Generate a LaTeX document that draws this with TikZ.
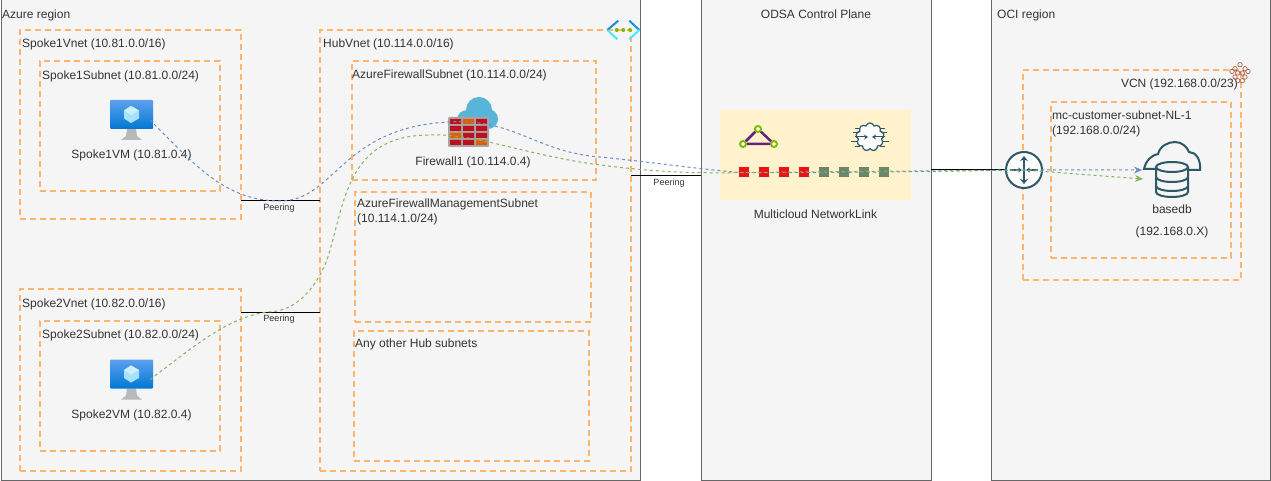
\documentclass[tikz,border=0pt]{standalone}
\usepackage{fontspec}
\setmainfont{Liberation Sans}
\usepackage{tikz}
\usetikzlibrary{positioning, shapes.symbols, arrows.meta}
\definecolor{regionfill}{HTML}{F5F5F5}
\definecolor{regionline}{HTML}{666666}
\definecolor{textgray}{HTML}{333333}
\definecolor{dashorange}{HTML}{FFB570}
\definecolor{linkblue}{HTML}{6C8EBF}
\definecolor{linkgreen}{HTML}{82B366}
\definecolor{bandyellow}{HTML}{FFF2CC}
\definecolor{ocitteal}{HTML}{2D5967}
\definecolor{brickred}{HTML}{C00F1C}
\definecolor{brickorange}{HTML}{E06000}
\definecolor{wallgray}{HTML}{A6A6A6}
\definecolor{cloudblue}{HTML}{59B4D9}
\definecolor{portred}{HTML}{EE1111}
\definecolor{portgreen}{HTML}{6D8764}
\definecolor{vmtop}{HTML}{5EA0EF}
\definecolor{vmbottom}{HTML}{0078D4}
\definecolor{azureblue}{HTML}{1490DF}
\definecolor{azurecyan}{HTML}{50E6FF}
\definecolor{azuregreen}{HTML}{7FBA00}
\definecolor{triangleline}{HTML}{68217A}
\definecolor{vcnbrown}{HTML}{B5654A}

% monitor icon, name and top left corner
\newcommand{\vmicon}[3]{
    \begin{scope}[shift={(#2,#3)}]
        \node (#1) [iconbox, minimum width=43pt, minimum height=40pt] at (21.5,20) {};
        \fill [gray!55] (17,29) -- (26,29) -- (27,36) -- (32,40) -- (11,40) -- (16,36) -- cycle;
        \shade [top color=vmtop, bottom color=vmbottom, rounded corners=1pt] (0,0) rectangle (43,29);
        \fill [cyan!35] (21,6) -- (29,10.5) -- (29,18.5) -- (21,23) -- (14,18.5) -- (14,10.5) -- cycle;
        \fill [cyan!20] (21,6) -- (29,10.5) -- (21,15) -- (14,10.5) -- cycle;
    \end{scope}
}

\begin{document}
\begin{tikzpicture}[x=1pt, y=-1pt, node distance=8pt and 10pt, font=\fontsize{12}{14}\selectfont, text=textgray]
    \tikzstyle{region} = [rectangle, anchor=north west, inner sep=0pt, outer sep=0pt, draw=regionline, fill=regionfill, line width=1pt]
    \tikzstyle{dashbox} = [rectangle, anchor=north west, inner sep=0pt, outer sep=0pt, draw=dashorange, line width=2pt, dash pattern=on 6pt off 4pt]
    \tikzstyle{boxtext} = [inner sep=0pt, text height=9pt, text depth=3pt, align=left]
    \tikzstyle{twolinetext} = [inner sep=0pt, align=left, font=\fontsize{12}{14.5}\selectfont]
    \tikzstyle{centertext} = [inner sep=0pt, text height=9pt, text depth=3pt, align=center]
    \tikzstyle{peeringtext} = [anchor=north, inner sep=2pt, text height=7.5pt, text depth=2pt, font=\fontsize{9}{10}\selectfont]
    \tikzstyle{peerline} = [black, line width=1pt]
    \tikzstyle{iconbox} = [rectangle, inner sep=0pt, outer sep=0pt]
    \tikzstyle{redport} = [rectangle, inner sep=0pt, outer sep=0pt, minimum size=10pt, fill=portred]
    \tikzstyle{greenport} = [rectangle, inner sep=0pt, outer sep=0pt, minimum size=10pt, fill=portgreen]
    \tikzstyle{ringnode} = [circle, inner sep=0pt, minimum size=6pt, draw=azuregreen, line width=2pt, fill=white]
    \tikzstyle{iconline} = [draw=ocitteal, line width=1.6pt]
    \tikzstyle{iconarrow} = [iconline, -{Stealth[length=4pt, width=5pt]}]
    \tikzstyle{bluelink} = [linkblue, line width=1pt, dash pattern=on 3pt off 3pt, -{Stealth[length=8pt, width=7pt]}]
    \tikzstyle{greenlink} = [linkgreen, line width=1pt, dash pattern=on 3pt off 3pt, -{Stealth[length=8pt, width=7pt]}]

    \useasboundingbox (0,0) rectangle (1271,481);

    % regions
    \node (azure) [region, minimum width=639pt, minimum height=480pt] at (1,0) {};
    \node (odsa) [region, minimum width=230pt, minimum height=480pt] at (701,0) {};
    \node (oci) [region, minimum width=279pt, minimum height=480pt] at (991,0) {};
    \node (azuretext) [boxtext, below right=9pt and 1pt of azure.north west] {Azure region};
    \node (odsatext) [centertext, below=9pt of odsa.north] {ODSA Control Plane};
    \node (ocitext) [boxtext, below right=9pt and 6pt of oci.north west] {OCI region};

    % spokes
    \node (spokeonevnet) [dashbox, minimum width=221pt, minimum height=189pt] at (20,30) {};
    \node (spokeonesubnet) [dashbox, minimum width=180pt, minimum height=130pt] at (40,61) {};
    \node (spoketwovnet) [dashbox, minimum width=221pt, minimum height=182pt] at (20,289) {};
    \node (spoketwosubnet) [dashbox, minimum width=180pt, minimum height=130pt] at (40,321) {};
    \node (spokeonevnettext) [boxtext, below right=8pt and 2pt of spokeonevnet.north west] {Spoke1Vnet (10.81.0.0/16)};
    \node (spokeonesubnettext) [boxtext, below right=9pt and 2pt of spokeonesubnet.north west] {Spoke1Subnet (10.81.0.0/24)};
    \node (spoketwovnettext) [boxtext, below right=9pt and 2pt of spoketwovnet.north west] {Spoke2Vnet (10.82.0.0/16)};
    \node (spoketwosubnettext) [boxtext, below right=8pt and 2pt of spoketwosubnet.north west] {Spoke2Subnet (10.82.0.0/24)};

    % hub
    \node (hubvnet) [dashbox, minimum width=311pt, minimum height=441pt] at (320,30) {};
    \node (firewallsubnet) [dashbox, minimum width=244pt, minimum height=119pt] at (352,61) {};
    \node (managementsubnet) [dashbox, minimum width=236pt, minimum height=130pt] at (355,192) {};
    \node (othersubnets) [dashbox, minimum width=235pt, minimum height=130pt] at (354,331) {};
    \node (hubvnettext) [boxtext, below right=8pt and 3pt of hubvnet.north west] {HubVnet (10.114.0.0/16)};
    \node (firewallsubnettext) [boxtext, below right=8pt and 0pt of firewallsubnet.north west] {AzureFirewallSubnet (10.114.0.0/24)};
    \node (managementsubnettext) [twolinetext, below right=7pt and 2pt of managementsubnet.north west] {AzureFirewallManagementSubnet\\(10.114.1.0/24)};
    \node (othersubnetstext) [boxtext, below right=7pt and 1pt of othersubnets.north west] {Any other Hub subnets};

    % oci side
    \node (vcn) [dashbox, minimum width=218pt, minimum height=210pt] at (1023,70) {};
    \node (customersubnet) [dashbox, minimum width=180pt, minimum height=156pt] at (1051,102) {};
    \node (vcntext) [boxtext, anchor=east] at (1238,85) {VCN (192.168.0.0/23)};
    \node (customersubnettext) [twolinetext, below right=9pt and 1pt of customersubnet.north west] {mc-customer-subnet-NL-1\\(192.168.0.0/24)};

    % vm icons
    \vmicon{spokeonevm}{110}{100}
    \vmicon{spoketwovm}{110}{359.5}
    \node (spokeonevmtext) [centertext, below=9pt of spokeonevm] {Spoke1VM (10.81.0.4)};
    \node (spoketwovmtext) [centertext, below=10pt of spoketwovm] {Spoke2VM (10.82.0.4)};

    % firewall icon
    \node (firewall) [iconbox, minimum width=50pt, minimum height=50pt] at (473,122) {};
    \fill [cloudblue] (479,110) circle [radius=13pt] (488,119) circle [radius=10pt] (467,120) circle [radius=10pt];
    \fill [wallgray, rounded corners=1pt] (448,117) rectangle (489,147);
    \fill [brickred] (450,119) rectangle (461,124) (476,119) rectangle (487,124)
        (450,126) rectangle (461,131) (463,126) rectangle (474,131) (476,126) rectangle (487,131)
        (463,133) rectangle (474,138) (476,133) rectangle (487,138)
        (450,140) rectangle (461,145) (463,140) rectangle (474,145);
    \fill [brickorange] (463,119) rectangle (474,124) (450,133) rectangle (461,138) (476,140) rectangle (487,145);
    \node (firewalltext) [centertext, below=9pt of firewall] {Firewall1 (10.114.0.4)};

    % azure vnet icon
    \node (vneticon) [iconbox, minimum width=33pt, minimum height=20pt] at (623,30) {};
    \draw [azureblue, line width=2pt] (618.3,20.7) -- (607.3,30) (629.3,20.7) -- (639.3,30);
    \draw [azurecyan, line width=2pt] (607.3,30) -- (617.3,39.3) (639.3,30) -- (629.3,39.3);
    \fill [azuregreen] (616.7,30) circle [radius=2pt] (623.3,30) circle [radius=2pt] (630,30) circle [radius=2pt];

    % vcn icon
    \node (vcnicon) [iconbox, minimum size=20pt] at (1240,73) {};
    \draw [vcnbrown, line width=0.7pt] (1240,64.7) circle [radius=2.2pt] (1235,68.7) circle [radius=2.2pt] (1245,68.7) circle [radius=2.2pt]
        (1232,71.5) circle [radius=2.2pt] (1248,71.5) circle [radius=2.2pt] (1237.7,73) circle [radius=2.2pt] (1242.3,73) circle [radius=2.2pt]
        (1235,77) circle [radius=2.2pt] (1245,77) circle [radius=2.2pt] (1237.7,80.7) circle [radius=2.2pt] (1242.3,80.7) circle [radius=2.2pt];

    % multicloud band
    \node (band) [rectangle, anchor=north west, inner sep=0pt, outer sep=0pt, minimum width=191pt, minimum height=90pt, fill=bandyellow] at (720,110) {};
    \node (bandtext) [centertext, below=9pt of band] {Multicloud NetworkLink};
    \node (ringtop) [ringnode] at (758,129) {};
    \node (ringleft) [ringnode] at (743,144) {};
    \node (ringright) [ringnode] at (774,144) {};
    \draw [triangleline, line width=2.5pt] (ringtop) -- (ringleft) -- (ringright) -- (ringtop);
    \node (exchange) [cloud, cloud puffs=9, aspect=1.1, inner sep=0pt, minimum width=28pt, minimum height=28pt, draw=ocitteal, line width=1.2pt, fill=white] at (870,137) {};
    \draw [iconarrow, line width=1pt] (855,137) -- (868,137);
    \draw [iconarrow, line width=1pt] (885,137) -- (872,137);
    \draw [ocitteal, line width=0.8pt] (853,132) -- (859,132) (851,141) -- (858,141) (855,128) -- (860,128) (855,146) -- (860,146)
        (881,132) -- (887,132) (882,141) -- (889,141) (880,128) -- (885,128) (880,146) -- (885,146);

    % ports
    \node (portone) [redport] at (744,172.5) {};
    \node (porttwo) [redport, right=of portone] {};
    \node (portthree) [redport, right=of porttwo] {};
    \node (portfour) [redport, right=of portthree] {};
    \node (portfive) [greenport, right=of portfour] {};
    \node (portsix) [greenport, right=of portfive] {};
    \node (portseven) [greenport, right=of portsix] {};
    \node (porteight) [greenport, right=of portseven] {};

    % router and database
    \node (router) [circle, inner sep=0pt, minimum size=36pt, draw=ocitteal, line width=2pt, fill=white] at (1024,170) {};
    \draw [iconline, {Stealth[length=5pt, width=8pt]}-{Stealth[length=5pt, width=8pt]}] (1024,156) -- (1024,184);
    \draw [iconarrow] (1010,170) -- (1022,170);
    \draw [iconarrow] (1038,170) -- (1026,170);
    \node (basedb) [iconbox, minimum width=58pt, minimum height=55pt] at (1172,169.5) {};
    \draw [ocitteal, line width=2pt] (1155,169) -- (1144,169) .. controls (1146,160) and (1152,155) .. (1158,154) .. controls (1160,146) and (1168,142) .. (1175,142) .. controls (1182,142) and (1187,147) .. (1189,152) .. controls (1196,152) and (1201,160) .. (1200,170) -- (1189,170);
    \draw [ocitteal, line width=2pt, fill=regionfill] (1156,167) -- (1156,192) arc [start angle=180, end angle=360, x radius=16pt, y radius=5pt] -- (1188,167) arc [start angle=0, end angle=360, x radius=16pt, y radius=5pt];
    \draw [ocitteal, line width=2pt] (1156,177) arc [start angle=180, end angle=360, x radius=16pt, y radius=5pt] (1156,186) arc [start angle=180, end angle=360, x radius=16pt, y radius=5pt];
    \node (basedbtext) [centertext, below=7pt of basedb] {basedb};
    \node (basedbiptext) [centertext, below=10pt of basedbtext] {(192.168.0.X)};

    % peering
    \node (peeringonetext) [peeringtext] at (279,201) {Peering};
    \node (peeringtwotext) [peeringtext] at (279,312) {Peering};
    \node (peeringthreetext) [peeringtext] at (669,176) {Peering};
    \draw [peerline] (spokeonevnet.east |- peeringonetext.north) -- (hubvnet.west |- peeringonetext.north);
    \draw [peerline] (spoketwovnet.east |- peeringtwotext.north) -- (hubvnet.west |- peeringtwotext.north);
    \draw [peerline] (hubvnet.east |- peeringthreetext.north) -- (odsa.west |- peeringthreetext.north);
    \draw [peerline] (odsa.east |- router) -- (router);

    % links
    \coordinate (bluepeer) at (280,201);
    \coordinate (bluebend) at (600,157);
    \coordinate (bluetip) at (1142,170);
    \coordinate (greenpeer) at (267,312);
    \coordinate (greenrise) at (327,260);
    \coordinate (greenwall) at (430,135);
    \coordinate (greenbend) at (600,165);
    \coordinate (greentip) at (1143,179);
    \draw [bluelink] ([xshift=-3pt]spokeonevm.east) .. controls (195,165) and (225,201) .. (bluepeer) .. controls (335,201) and (340,128) .. (firewall.west) .. controls (515,118) and (535,152) .. (bluebend) .. controls (650,162) and (690,168) .. (portone.west) .. controls (800,173) and (900,172) .. (router.center) -- (bluetip);
    \draw [greenlink] ([xshift=-3pt]spoketwovm.east) .. controls (190,350) and (225,318) .. (greenpeer) .. controls (295,312) and (315,290) .. (greenrise) .. controls (345,205) and (345,135) .. (greenwall) .. controls (475,133) and (525,155) .. (greenbend) .. controls (640,170) and (680,174) .. (portone.center) -- (router.center) -- (greentip);
\end{tikzpicture}
\end{document}
